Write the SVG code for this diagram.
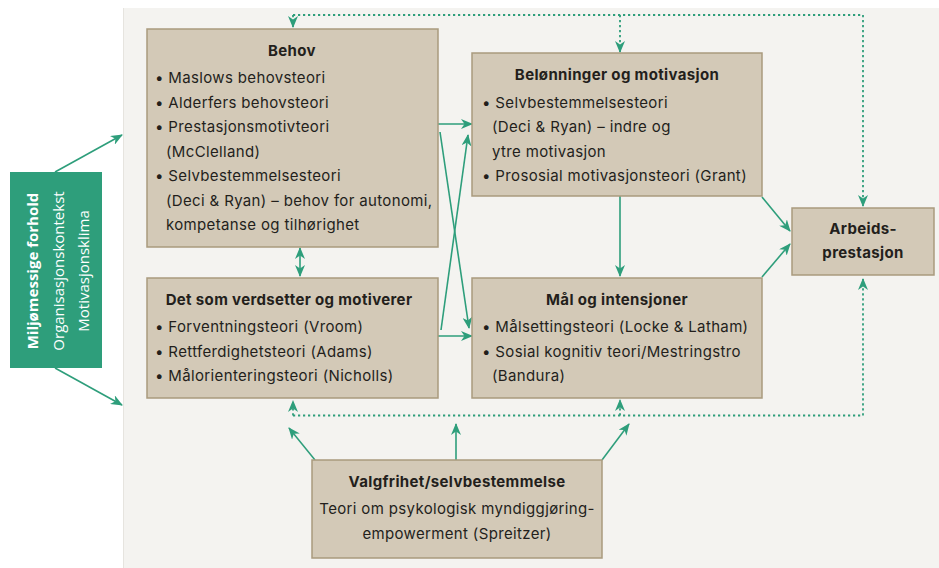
<svg xmlns="http://www.w3.org/2000/svg" width="939" height="568" viewBox="0 0 939 568">
<defs>
<style>
.box{fill:#d3c9b7;stroke:#a99a7d;stroke-width:1.5}
.t{font-family:Inter,"Open Sans","Liberation Sans",Arial,sans-serif;font-size:15px;letter-spacing:0.35px;fill:#231f1c}
.b{font-weight:bold}
.c{text-anchor:middle}
.w{fill:#ffffff;font-family:"Open Sans","Liberation Sans",Arial,sans-serif;font-size:15px;text-anchor:middle}
.ln{stroke:#2e9e7b;stroke-width:1.6;fill:none}
.dt{stroke:#2e9e7b;stroke-width:1.8;fill:none;stroke-dasharray:2.2 2.8}
</style>
<marker id="ah" viewBox="0 0 12 10" refX="11" refY="5" markerWidth="12" markerHeight="10" markerUnits="userSpaceOnUse" orient="auto-start-reverse">
<path d="M0,0 L12,5 L0,10 L3.5,5 z" fill="#2e9e7b"/>
</marker>
</defs>
<rect x="0" y="0" width="939" height="568" fill="#ffffff"/>
<rect x="123" y="8" width="816" height="560" fill="#f4f3f0"/>
<line x1="123.5" y1="8" x2="123.5" y2="568" stroke="#e6e4df" stroke-width="1"/>

<g id="connectors">
<path class="dt" d="M293,15 H863 V206" marker-end="url(#ah)"/>
<path class="dt" d="M293,15 V27" marker-end="url(#ah)"/>
<path class="dt" d="M620,15 V52" marker-end="url(#ah)"/>
<path class="dt" d="M293,415.5 H863 V279" marker-end="url(#ah)"/>
<path class="dt" d="M293,415.5 V401" marker-end="url(#ah)"/>
<path class="dt" d="M620,415.5 V400" marker-end="url(#ah)"/>
<line class="ln" x1="55" y1="172" x2="122" y2="135" marker-end="url(#ah)"/>
<line class="ln" x1="55" y1="368" x2="122" y2="405" marker-end="url(#ah)"/>
<line class="ln" x1="300" y1="248" x2="300" y2="276" marker-start="url(#ah)" marker-end="url(#ah)"/>
<line class="ln" x1="438" y1="124" x2="472" y2="124" marker-end="url(#ah)"/>
<line class="ln" x1="440" y1="132" x2="469" y2="328" marker-end="url(#ah)"/>
<line class="ln" x1="441" y1="330" x2="468" y2="135" marker-end="url(#ah)"/>
<line class="ln" x1="438" y1="336" x2="472" y2="336" marker-end="url(#ah)"/>
<line class="ln" x1="620" y1="196" x2="620" y2="276" marker-end="url(#ah)"/>
<line class="ln" x1="762" y1="197" x2="790" y2="231" marker-end="url(#ah)"/>
<line class="ln" x1="762" y1="277" x2="790" y2="244" marker-end="url(#ah)"/>
<line class="ln" x1="315" y1="460" x2="289" y2="428" marker-end="url(#ah)"/>
<line class="ln" x1="456" y1="460" x2="456" y2="424" marker-end="url(#ah)"/>
<line class="ln" x1="602" y1="460" x2="629" y2="424" marker-end="url(#ah)"/>
</g>

<g id="miljo">
<rect x="10" y="172" width="92" height="196" fill="#2e9e7b"/>
<text class="w b" transform="translate(38,271) rotate(-90)">Miljømessige forhold</text>
<text class="w" transform="translate(64,271) rotate(-90)">Organisasjonskontekst</text>
<text class="w" transform="translate(89,271) rotate(-90)">Motivasjonsklima</text>
</g>

<g id="behov">
<rect class="box" x="147" y="29" width="291" height="218"/>
<text class="t b c" x="292" y="56">Behov</text>
<text class="t" x="155" y="83">• Maslows behovsteori</text>
<text class="t" x="155" y="107.5">• Alderfers behovsteori</text>
<text class="t" x="155" y="132">• Prestasjonsmotivteori</text>
<text class="t" x="166" y="156.5">(McClelland)</text>
<text class="t" x="155" y="181">• Selvbestemmelsesteori</text>
<text class="t" x="166" y="205.5">(Deci &amp; Ryan) – behov for autonomi,</text>
<text class="t" x="166" y="230">kompetanse og tilhørighet</text>
</g>

<g id="verdsetter">
<rect class="box" x="147" y="278" width="291" height="120"/>
<text class="t b c" x="289" y="305">Det som verdsetter og motiverer</text>
<text class="t" x="155" y="332">• Forventningsteori (Vroom)</text>
<text class="t" x="155" y="356.5">• Rettferdighetsteori (Adams)</text>
<text class="t" x="155" y="381">• Målorienteringsteori (Nicholls)</text>
</g>

<g id="belonninger">
<rect class="box" x="472" y="53" width="290" height="143"/>
<text class="t b c" x="617" y="80">Belønninger og motivasjon</text>
<text class="t" x="482" y="107.5">• Selvbestemmelsesteori</text>
<text class="t" x="492" y="132">(Deci &amp; Ryan) – indre og</text>
<text class="t" x="492" y="156.5">ytre motivasjon</text>
<text class="t" x="482" y="181">• Prososial motivasjonsteori (Grant)</text>
</g>

<g id="maal">
<rect class="box" x="472" y="278" width="290" height="120"/>
<text class="t b c" x="617" y="305">Mål og intensjoner</text>
<text class="t" x="482" y="332">• Målsettingsteori (Locke &amp; Latham)</text>
<text class="t" x="482" y="356.5">• Sosial kognitiv teori/Mestringstro</text>
<text class="t" x="492" y="381">(Bandura)</text>
</g>

<g id="arbeid">
<rect class="box" x="792" y="208" width="142" height="67"/>
<text class="t b c" x="863" y="234">Arbeids-</text>
<text class="t b c" x="863" y="258">prestasjon</text>
</g>

<g id="valgfrihet">
<rect class="box" x="312" y="460" width="290" height="98"/>
<text class="t b c" x="457" y="487">Valgfrihet/selvbestemmelse</text>
<text class="t c" x="457" y="514">Teori om psykologisk myndiggjøring-</text>
<text class="t c" x="457" y="539">empowerment (Spreitzer)</text>
</g>
</svg>
